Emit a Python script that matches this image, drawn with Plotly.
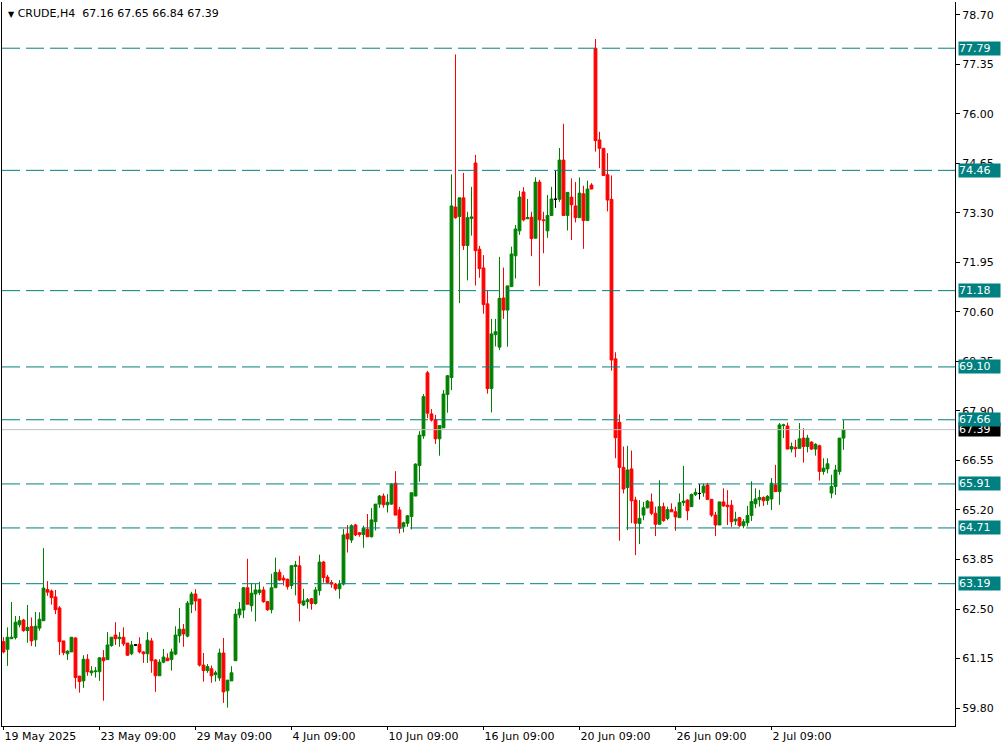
import plotly.graph_objects as go

symbol = "CRUDE,H4"

opens = [61.61, 61.40, 61.69, 61.72, 62.07, 62.20, 61.91, 62.02, 61.66, 61.98,
         62.18, 63.03, 62.99, 62.83, 62.53, 61.63, 61.28, 61.33, 61.71, 60.67,
         60.54, 61.13, 60.76, 60.79, 60.79, 61.17, 61.12, 61.50, 61.79, 61.69,
         61.73, 61.57, 61.28, 61.52, 61.54, 61.33, 61.28, 61.63, 61.11, 60.68,
         61.05, 61.16, 61.12, 61.27, 61.77, 61.95, 61.76, 62.63, 62.91, 62.77,
         60.97, 60.82, 60.87, 60.71, 60.62, 61.30, 60.27, 60.54, 61.09, 62.34,
         62.47, 63.08, 62.59, 62.91, 62.95, 63.02, 62.70, 62.48, 63.08, 63.50,
         63.34, 63.31, 63.14, 63.66, 63.68, 62.61, 62.70, 62.78, 62.65, 63.00,
         63.78, 63.37, 63.22, 63.18, 63.05, 63.18, 64.55, 64.38, 64.79, 64.58,
         64.53, 64.67, 64.47, 64.88, 65.36, 65.58, 65.34, 65.36, 65.93, 65.20,
         64.74, 64.84, 65.02, 65.58, 66.41, 67.22, 68.94, 67.82, 67.67, 67.14,
         67.44, 68.35, 68.81, 73.46, 73.20, 73.71, 72.41, 73.15, 74.66, 72.31,
         71.80, 70.82, 68.51, 69.98, 69.64, 70.98, 70.65, 71.29, 72.13, 72.81,
         73.87, 73.14, 73.18, 72.61, 74.14, 73.11, 72.81, 73.23, 73.67, 73.67,
         74.74, 73.23, 73.73, 73.49, 73.17, 73.82, 73.09, 74.06, 77.79, 75.29,
         75.06, 74.34, 73.67, 69.32, 67.59, 66.36, 65.81, 66.32, 65.47, 64.83,
         65.06, 65.26, 65.42, 65.11, 64.81, 65.29, 64.97, 65.21, 65.15, 64.99,
         65.40, 65.47, 65.29, 65.62, 65.65, 65.67, 65.88, 65.49, 65.06, 64.79,
         65.42, 65.33, 65.33, 64.90, 64.99, 64.77, 64.85, 65.05, 65.37, 65.48,
         65.54, 65.46, 65.50, 65.88, 65.70, 67.50, 67.49, 66.86, 66.91, 66.88,
         67.16, 66.93, 67.05, 66.86, 66.95, 66.25, 66.32, 65.66, 65.84, 66.25,
         67.16]

highs = [61.73, 62.00, 62.69, 62.31, 62.31, 62.23, 62.61, 62.27, 62.42, 62.41,
         64.16, 63.26, 63.03, 63.02, 62.58, 61.63, 61.38, 61.73, 61.73, 60.67,
         61.24, 61.27, 60.94, 60.92, 61.18, 61.38, 61.87, 61.73, 62.14, 61.87,
         62.00, 61.57, 61.63, 61.54, 61.73, 61.35, 61.87, 61.71, 61.13, 61.13,
         61.41, 61.29, 61.42, 62.03, 62.53, 62.09, 62.72, 62.97, 63.04, 62.77,
         61.30, 61.00, 60.96, 60.82, 61.42, 61.71, 60.56, 60.94, 62.50, 62.69,
         63.10, 63.87, 63.21, 63.18, 63.24, 63.11, 62.72, 63.46, 63.90, 63.58,
         63.42, 63.33, 63.69, 63.81, 63.95, 63.05, 62.80, 62.80, 63.10, 63.98,
         63.81, 63.43, 63.29, 63.21, 63.29, 64.68, 64.79, 64.81, 64.82, 64.59,
         64.77, 65.09, 65.25, 65.36, 65.61, 65.65, 65.63, 65.93, 66.26, 65.28,
         64.88, 65.06, 65.67, 66.47, 67.35, 68.36, 68.99, 67.95, 67.79, 67.50,
         68.47, 68.88, 74.35, 77.62, 73.71, 74.39, 73.33, 74.01, 74.88, 72.40,
         72.15, 71.17, 70.41, 70.41, 72.10, 71.81, 71.31, 72.38, 72.97, 73.90,
         74.00, 73.68, 73.33, 74.27, 74.20, 73.33, 73.79, 74.01, 74.45, 75.07,
         75.73, 73.86, 74.24, 74.14, 74.27, 74.04, 74.18, 74.11, 78.04, 75.51,
         75.06, 74.93, 74.32, 69.50, 67.81, 66.93, 66.95, 66.82, 65.56, 65.47,
         65.42, 65.47, 65.65, 65.29, 66.01, 65.40, 65.29, 65.38, 65.29, 65.65,
         66.40, 65.49, 65.65, 65.79, 65.90, 65.92, 65.94, 65.49, 65.15, 65.42,
         65.79, 65.74, 65.47, 65.15, 65.01, 64.95, 65.31, 65.98, 65.79, 65.75,
         65.57, 65.61, 66.07, 66.43, 67.57, 67.55, 67.58, 67.04, 67.11, 67.57,
         67.43, 67.25, 67.07, 67.02, 66.98, 66.61, 66.61, 66.16, 66.43, 67.16,
         67.65]

lows = [61.29, 60.95, 61.68, 61.67, 62.00, 61.88, 61.58, 61.49, 61.47, 61.91,
        62.18, 62.86, 62.62, 62.36, 61.25, 61.24, 61.11, 61.33, 60.33, 60.22,
        60.35, 60.68, 60.68, 60.63, 60.54, 60.00, 61.12, 61.47, 61.52, 61.47,
        61.49, 61.22, 61.24, 61.49, 61.29, 61.03, 61.03, 60.76, 60.24, 60.68,
        61.02, 61.09, 60.82, 61.24, 61.58, 61.47, 61.73, 62.39, 62.45, 60.93,
        60.52, 60.76, 60.49, 60.52, 60.54, 59.94, 59.81, 60.54, 61.09, 62.25,
        62.25, 62.63, 62.43, 62.16, 62.88, 62.67, 62.45, 62.38, 63.08, 63.27,
        63.14, 63.03, 63.05, 62.87, 62.16, 62.58, 62.51, 62.48, 62.62, 62.87,
        63.22, 63.19, 63.08, 63.00, 62.78, 63.14, 64.04, 64.30, 64.49, 64.47,
        64.17, 64.47, 64.45, 64.64, 65.26, 65.26, 65.13, 65.34, 65.06, 64.56,
        64.59, 64.74, 64.67, 65.58, 65.97, 67.14, 67.70, 67.61, 67.00, 66.68,
        67.44, 67.85, 68.47, 73.14, 70.84, 72.29, 71.46, 72.68, 71.32, 71.53,
        70.55, 68.37, 67.86, 69.66, 69.56, 70.41, 69.65, 71.29, 71.51, 72.70,
        73.07, 73.14, 72.12, 72.61, 71.31, 72.20, 72.62, 73.22, 73.44, 73.60,
        73.23, 72.82, 72.56, 73.04, 73.17, 72.32, 73.09, 73.95, 74.97, 74.52,
        74.32, 73.34, 69.00, 66.61, 64.36, 65.65, 64.65, 64.84, 63.97, 64.27,
        64.92, 65.24, 65.06, 64.49, 64.81, 64.88, 64.92, 65.15, 64.63, 64.99,
        65.31, 64.92, 65.29, 65.58, 65.49, 65.56, 65.47, 65.01, 64.49, 64.79,
        65.29, 64.79, 64.74, 64.79, 64.74, 64.70, 64.75, 64.90, 65.25, 65.29,
        65.31, 65.34, 65.20, 65.70, 65.34, 67.16, 66.86, 66.77, 66.64, 66.88,
        66.49, 66.77, 66.84, 66.68, 66.00, 66.16, 66.20, 65.52, 65.61, 66.16,
        66.84]

closes = [61.33, 61.73, 61.73, 62.14, 62.18, 61.91, 62.00, 61.63, 62.03, 62.22,
          63.07, 62.96, 62.81, 62.48, 61.61, 61.31, 61.35, 61.73, 60.63, 60.52,
          61.13, 60.79, 60.81, 60.81, 61.17, 61.09, 61.52, 61.73, 61.69, 61.73,
          61.55, 61.24, 61.52, 61.52, 61.33, 61.28, 61.65, 61.09, 60.68, 61.05,
          61.19, 61.09, 61.33, 61.79, 61.95, 61.82, 62.66, 62.91, 62.72, 60.97,
          60.82, 60.93, 60.68, 60.76, 61.30, 60.24, 60.56, 60.76, 62.36, 62.50,
          63.08, 62.63, 62.93, 63.02, 63.02, 62.70, 62.48, 63.08, 63.50, 63.29,
          63.29, 63.11, 63.68, 63.70, 62.66, 62.72, 62.75, 62.65, 63.02, 63.78,
          63.36, 63.22, 63.18, 63.05, 63.17, 64.52, 64.41, 64.77, 64.52, 64.53,
          64.70, 64.47, 64.93, 65.36, 65.58, 65.34, 65.41, 65.90, 65.06, 64.70,
          64.85, 65.04, 65.67, 66.45, 67.24, 68.29, 67.84, 67.65, 67.14, 67.50,
          68.36, 68.86, 73.49, 73.17, 73.71, 72.41, 73.17, 73.19, 72.27, 71.78,
          70.80, 68.51, 70.00, 70.06, 70.97, 70.65, 71.31, 72.18, 72.86, 73.73,
          73.11, 73.17, 72.60, 74.14, 73.11, 73.09, 73.23, 73.68, 73.67, 74.74,
          73.23, 73.86, 73.52, 73.17, 73.84, 73.09, 73.95, 73.95, 75.27, 75.06,
          74.32, 73.65, 69.29, 67.17, 66.36, 65.77, 66.29, 65.45, 64.84, 64.97,
          65.26, 65.44, 65.11, 64.81, 65.29, 64.91, 65.21, 65.15, 65.01, 65.40,
          65.44, 65.18, 65.62, 65.68, 65.65, 65.85, 65.49, 65.06, 64.79, 65.42,
          65.31, 65.29, 64.88, 64.95, 64.77, 64.88, 65.05, 65.43, 65.50, 65.54,
          65.45, 65.57, 65.93, 65.70, 67.52, 67.52, 66.86, 66.93, 66.87, 67.14,
          66.93, 67.16, 66.86, 66.99, 66.25, 66.34, 66.46, 65.84, 66.29, 67.16,
          67.39]

x_tick_bars = [0, 24, 48, 72, 96, 120, 144, 168, 192]
x_tick_labels = ["19 May 2025", "23 May 09:00", "29 May 09:00", "4 Jun 09:00",
                 "10 Jun 09:00", "16 Jun 09:00", "20 Jun 09:00", "26 Jun 09:00",
                 "2 Jul 09:00"]
y_tick_values = [78.70, 77.35, 76.00, 74.65, 73.30, 71.95, 70.60, 69.25,
                 67.90, 66.55, 65.20, 63.85, 62.50, 61.15, 59.80]
levels = [77.79, 74.46, 71.18, 69.10, 67.66, 65.91, 64.71, 63.19]

n = len(closes)
assert len(opens) == n and len(highs) == n and len(lows) == n
bars = list(range(n))
doji = [i for i in bars if opens[i] == closes[i]]

FONT = "DejaVu Sans"
GREEN = "#008000"
RED = "#ff0000"
TEAL = "#008080"

fig = go.Figure()
fig.add_trace(go.Candlestick(
    x=bars, open=opens, high=highs, low=lows, close=closes,
    increasing=dict(line=dict(color=GREEN, width=1), fillcolor=GREEN),
    decreasing=dict(line=dict(color=RED, width=1), fillcolor=RED),
    whiskerwidth=0, showlegend=False, hoverinfo="skip"))
fig.add_trace(go.Candlestick(
    x=doji, open=[opens[i] for i in doji], high=[highs[i] for i in doji],
    low=[lows[i] for i in doji], close=[closes[i] for i in doji],
    increasing=dict(line=dict(color="#000000", width=1), fillcolor="#000000"),
    decreasing=dict(line=dict(color="#000000", width=1), fillcolor="#000000"),
    whiskerwidth=0, showlegend=False, hoverinfo="skip"))

current = closes[-1]
shapes = [dict(type="line", xref="paper", x0=0, x1=1, yref="y", y0=current, y1=current,
               line=dict(color="#c0c0c0", width=1), layer="above")]
for lv in levels:
    shapes.append(dict(type="line", xref="paper", x0=0, x1=1, yref="y", y0=lv, y1=lv,
                       line=dict(color=TEAL, width=1, dash="18px,6px"), layer="above"))

annotations = [dict(xref="paper", x=1, xshift=3, xanchor="left", yref="y", y=current,
                    text=f"{current:.2f}", showarrow=False, bgcolor="#000000",
                    font=dict(family=FONT, size=11, color="#ffffff"),
                    width=41, height=13, borderpad=0, align="left")]
for lv in levels:
    annotations.append(dict(xref="paper", x=1, xshift=3, xanchor="left", yref="y", y=lv,
                            text=f"{lv:.2f}", showarrow=False, bgcolor=TEAL,
                            font=dict(family=FONT, size=11, color="#ffffff"),
                            width=41, height=13, borderpad=0, align="left"))
annotations.append(dict(xref="paper", x=0, xshift=4, xanchor="left", yref="paper", y=1,
                        yshift=-3, yanchor="top", showarrow=False,
                        text=(f"<span style='font-size:8px'>▼</span> {symbol}  "
                              f"{opens[-1]:.2f} {highs[-1]:.2f} {lows[-1]:.2f} {closes[-1]:.2f}"),
                        font=dict(family=FONT, size=11, color="#000000")))

fig.update_layout(
    width=1008, height=751,
    margin=dict(l=2, r=53, t=2, b=25),
    paper_bgcolor="#ffffff", plot_bgcolor="#ffffff",
    boxmode="overlay", boxgap=0.3, boxgroupgap=0,
    shapes=shapes, annotations=annotations,
    font=dict(family=FONT, size=11, color="#000000"),
    xaxis=dict(type="linear", range=[-0.375, 237.875], rangeslider=dict(visible=False),
               tickmode="array", tickvals=x_tick_bars, ticktext=x_tick_labels,
               ticks="outside", ticklen=3, tickcolor="#000000",
               ticklabelposition="outside right",
               showgrid=False, zeroline=False, showline=True, linecolor="#000000",
               linewidth=1, mirror=False, tickfont=dict(family=FONT, size=11)),
    yaxis=dict(side="right", range=[59.31, 79.05], tickmode="array",
               tickvals=y_tick_values, ticktext=[f"{v:.2f}" for v in y_tick_values],
               ticks="outside", ticklen=4, tickcolor="#000000",
               showgrid=False, zeroline=False, showline=True, linecolor="#000000",
               linewidth=1, mirror=True, tickfont=dict(family=FONT, size=11)),
)

fig.write_html("out.html", config={"displayModeBar": False},
               post_script="document.body.style.margin='0';")
